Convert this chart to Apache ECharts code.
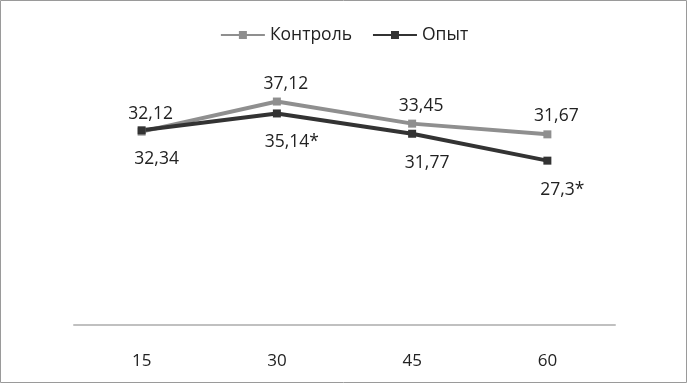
<!DOCTYPE html>
<html><head><meta charset="utf-8">
<script src="https://cdn.jsdelivr.net/npm/echarts@6/dist/echarts.min.js"></script>
<style>html,body{margin:0;padding:0;background:#fff}#c{width:688px;height:384px}</style>
</head><body><div id="c"></div>
<script>
const categories = ['15', '30', '45', '60'];
const control = [32.12, 37.12, 33.45, 31.67];
const experiment = [32.34, 35.14, 31.77, 27.3];
const experimentLabels = ['32,34', '35,14*', '31,77', '27,3*'];
const seriesNames = ['Контроль', 'Опыт'];

const chart = echarts.init(document.getElementById('c'));
const font = '"Open Sans", sans-serif';
chart.setOption({
  animation: false,
  textStyle: { fontFamily: font },
  graphic: [{ type: 'rect', shape: { x: 0.5, y: 0.5, width: 686, height: 382 }, style: { fill: 'none', stroke: '#9a9a9a', lineWidth: 1 } }],
  legend: {
    top: 21, left: 'center', itemWidth: 44, itemHeight: 10, itemGap: 20,
    textStyle: { fontSize: 17.5, color: '#222', fontFamily: font },
    data: seriesNames
  },
  grid: { left: 74, right: 73, top: 24, bottom: 59 },
  xAxis: {
    type: 'category', data: categories, boundaryGap: true,
    axisLine: { lineStyle: { color: '#c0c0c0', width: 2 } },
    axisTick: { show: false },
    axisLabel: { fontSize: 17, color: '#222', margin: 28, fontFamily: font }
  },
  yAxis: { type: 'value', min: 0, max: 50, show: false, splitLine: { show: false } },
  series: [
    {
      name: seriesNames[0], type: 'line', data: control,
      symbol: 'rect', symbolSize: 8,
      lineStyle: { color: '#8f8f8f', width: 4 },
      itemStyle: { color: '#8f8f8f' },
      label: { show: true, position: 'top', offset: [9, 0], fontSize: 17.5, color: '#222', fontFamily: font,
        formatter: p => String(p.value).replace('.', ',') }
    },
    {
      name: seriesNames[1], type: 'line', data: experiment,
      symbol: 'rect', symbolSize: 8,
      lineStyle: { color: '#333333', width: 4 },
      itemStyle: { color: '#333333' },
      label: { show: true, position: 'bottom', offset: [15, 11], fontSize: 17.5, color: '#222', fontFamily: font,
        formatter: p => experimentLabels[p.dataIndex] }
    }
  ]
});
</script></body></html>
